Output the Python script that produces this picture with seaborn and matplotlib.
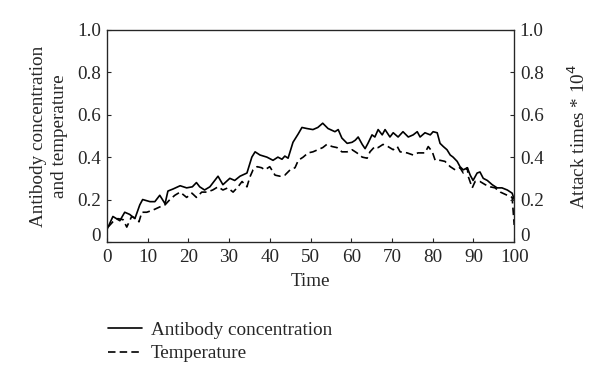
import numpy as np
import pandas as pd
import matplotlib
matplotlib.use('Agg')
import matplotlib.pyplot as plt
import matplotlib.transforms as mtransforms
import seaborn as sns

# values
antibody_x = [0, 1.5, 3.2, 4.4, 5.6, 6.9, 8.1, 8.8, 10.6, 11.8, 13, 14.3, 15, 16.3, 18, 19.6,
              21, 22, 22.8, 24, 25.3, 27.3, 28.5, 30.2, 31.4, 32.7, 34.4, 35.6, 36.4, 37.6,
              39.3, 40.8, 42, 43, 43.7, 44.5, 45.7, 47, 47.9, 49.1, 50.6, 51.8, 53, 54.3,
              56, 56.8, 57.7, 59, 60.2, 61, 61.7, 62.7, 63.4, 64.1, 65.1, 65.8, 66.6, 67.6,
              68.3, 69.5, 70.3, 71.5, 72.7, 74, 75.2, 76.2, 76.9, 78.1, 79.4, 80.1, 81.1,
              81.8, 82.6, 83.5, 84.3, 85, 86, 86.7, 87.5, 88.5, 89.2, 89.9, 90.9, 91.6,
              92.4, 93.4, 94.6, 95.8, 97, 98.3, 99.5, 100]
antibody = [0.057, 0.12, 0.10, 0.14, 0.13, 0.11, 0.175, 0.20, 0.19, 0.19, 0.22, 0.18, 0.24, 0.25,
            0.265, 0.255, 0.26, 0.28, 0.26, 0.245, 0.26, 0.31, 0.27, 0.30, 0.29, 0.31, 0.325,
            0.40, 0.425, 0.41, 0.40, 0.385, 0.40, 0.39, 0.405, 0.395, 0.47, 0.51, 0.54, 0.535,
            0.53, 0.54, 0.56, 0.535, 0.52, 0.53, 0.49, 0.465, 0.47, 0.48, 0.495, 0.46, 0.44,
            0.465, 0.505, 0.495, 0.53, 0.505, 0.53, 0.495, 0.515, 0.495, 0.52, 0.495, 0.505,
            0.52, 0.495, 0.515, 0.505, 0.52, 0.515, 0.465, 0.45, 0.435, 0.41, 0.40, 0.38,
            0.355, 0.34, 0.35, 0.315, 0.29, 0.325, 0.33, 0.30, 0.29, 0.27, 0.255, 0.255,
            0.245, 0.23, 0.20]

temp_x = [0.3, 1.5, 2.7, 4, 4.9, 6.1, 7.3, 7.9, 8.6, 9.8, 11.3, 13, 14.3, 15.5, 16.7, 18, 19.6,
          20.9, 22, 23.3, 24.6, 26, 27.3, 28.5, 29.7, 31, 32.2, 33.2, 34.4, 35.1, 35.9, 36.9,
          38, 38.8, 40, 41.3, 42.5, 43.7, 45, 46.2, 47, 48.2, 49.4, 50.6, 51.8, 53, 54, 55.3,
          56.5, 57.7, 59, 60.2, 61.4, 62.7, 63.9, 64.6, 65.8, 66.6, 67.8, 69, 70.3, 71.3, 72,
          73.7, 75.2, 76.4, 78.1, 78.9, 79.9, 80.6, 81.8, 83, 84.3, 85.5, 86.7, 87.5, 88.5,
          88.7, 89.7, 90.4, 91.6, 92.9, 94.1, 95.3, 96.6, 98.3, 99.5, 100]
temperature = [0.07, 0.095, 0.11, 0.105, 0.07, 0.12, 0.11, 0.095, 0.14, 0.14, 0.15, 0.165, 0.175,
               0.20, 0.22, 0.235, 0.21, 0.23, 0.21, 0.235, 0.235, 0.245, 0.26, 0.245, 0.255,
               0.235, 0.26, 0.285, 0.26, 0.305, 0.34, 0.355, 0.35, 0.34, 0.355, 0.315, 0.31,
               0.315, 0.34, 0.35, 0.385, 0.40, 0.42, 0.425, 0.435, 0.445, 0.46, 0.45, 0.445,
               0.425, 0.425, 0.435, 0.42, 0.40, 0.395, 0.425, 0.45, 0.445, 0.46, 0.45, 0.435,
               0.45, 0.425, 0.42, 0.41, 0.42, 0.42, 0.45, 0.425, 0.385, 0.385, 0.38, 0.355,
               0.34, 0.35, 0.325, 0.35, 0.31, 0.255, 0.285, 0.285, 0.27, 0.26, 0.255, 0.235,
               0.22, 0.21, 0.08]

x_ticks = list(range(0, 101, 10))
y_ticks = [0, 0.2, 0.4, 0.6, 0.8, 1.0]
y_tick_labels = ['0', '0.2', '0.4', '0.6', '0.8', '1.0']

sns.set_style("ticks")
plt.rcParams['font.family'] = ['Liberation Serif', 'DejaVu Serif']
plt.rcParams['xtick.direction'] = 'in'
plt.rcParams['ytick.direction'] = 'in'

df_ab = pd.DataFrame({'x': antibody_x, 'y': antibody})
df_t = pd.DataFrame({'x': temp_x, 'y': temperature})

fig = plt.figure(figsize=(6, 3.84), dpi=100)
ax = fig.add_axes([0.178, 0.370, 0.679, 0.552])

sns.lineplot(data=df_ab, x='x', y='y', ax=ax, color='black', linewidth=1.2,
             label='Antibody concentration', legend=False)
sns.lineplot(data=df_t, x='x', y='y', ax=ax, color='black', linewidth=1.2,
             linestyle=(0, (4.5, 2.5)), label='Temperature', legend=False)

fs = 13.8
ax.set_xlim(0, 100)
ax.set_ylim(0, 1.0)
ax.set_xticks(x_ticks)
ax.set_xticklabels([str(t) for t in x_ticks], fontsize=fs)
ax.set_yticks(y_ticks)
ax.set_yticklabels(y_tick_labels, fontsize=fs)
ax.tick_params(axis='y', length=3, width=0.8, pad=4)
ax.tick_params(axis='x', length=3, width=0.8, pad=5)
ax.set_xlabel('Time', fontsize=fs, labelpad=5)
ax.set_ylabel('Antibody concentration\nand temperature', fontsize=fs, labelpad=7,
              linespacing=1.25)
for s in ax.spines.values():
    s.set_visible(True)
    s.set_linewidth(0.9)

ax2 = ax.twinx()
ax2.set_ylim(0, 1.0)
ax2.set_yticks(y_ticks)
ax2.set_yticklabels(y_tick_labels, fontsize=fs)
ax2.tick_params(length=3, width=0.8, pad=4, direction='in')
ax2.set_ylabel('Attack times * 10$^4$', fontsize=fs, labelpad=17)

# the "0" labels sit a little above the corner, clear of the x tick labels
lift = mtransforms.ScaledTranslation(0, 5 / 72, fig.dpi_scale_trans)
for a in (ax, ax2):
    lbl = a.get_yticklabels()[0]
    lbl.set_transform(lbl.get_transform() + lift)

handles, labels = ax.get_legend_handles_labels()
fig.legend(handles, labels, loc='upper left', bbox_to_anchor=(0.168, 0.182),
           frameon=False, fontsize=fs, handlelength=1.75, handletextpad=0.45,
           labelspacing=0.3, borderaxespad=0)

fig.savefig('out.png', dpi=100)
